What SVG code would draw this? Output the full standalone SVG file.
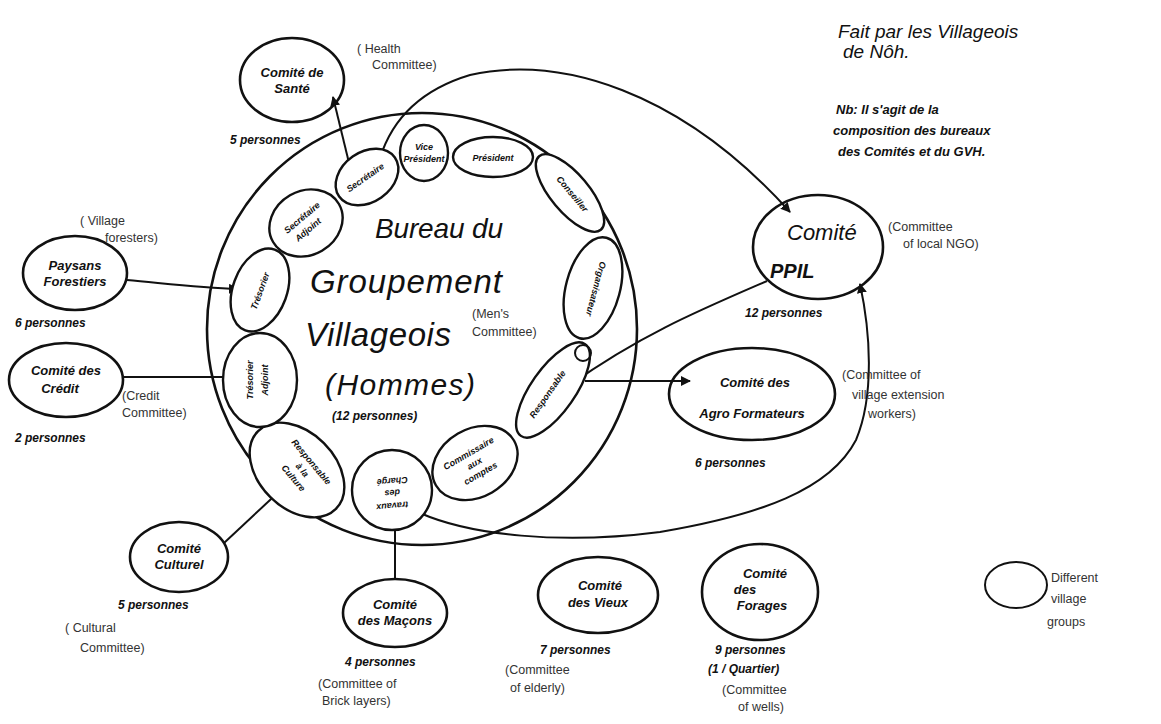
<svg xmlns="http://www.w3.org/2000/svg" width="1161" height="724" viewBox="0 0 1161 724">
<defs>
<style>
.n{fill:none;stroke:#111;stroke-width:2.6}
.r{fill:#fff;stroke:#111;stroke-width:2.4}
.c{fill:none;stroke:#111;stroke-width:2}
.fr{font-family:"Liberation Sans",Arial,sans-serif;font-style:italic;font-weight:bold;fill:#111;font-size:13px}
.sm{font-family:"Liberation Sans",Arial,sans-serif;font-style:italic;font-weight:bold;fill:#111;font-size:9px}
.en{font-family:"Liberation Sans",Arial,sans-serif;fill:#333;font-size:12.5px}
.big{font-family:"Liberation Sans",Arial,sans-serif;font-style:italic;fill:#111}
.p{font-family:"Liberation Sans",Arial,sans-serif;font-style:italic;font-weight:bold;fill:#111;font-size:12px}
</style>
<marker id="a" viewBox="0 0 10 10" refX="9" refY="5" markerWidth="5" markerHeight="5" orient="auto"><path d="M0,0L10,5L0,10z" fill="#111"/></marker>
</defs>
<rect width="1161" height="724" fill="#fff"/>

<g id="connectors">
<path class="c" d="M380,158 C392,120 420,90 470,75 C560,55 680,90 790,212" marker-end="url(#a)"/>
<path class="c" d="M420,513 C470,535 560,545 660,532 C760,515 830,490 856,440 C875,395 870,330 860,284" marker-end="url(#a)"/>
<path class="c" d="M350,167 L333,97" marker-end="url(#a)"/>
<path class="c" d="M127,280 C170,284 200,288 238,289" marker-end="url(#a)"/>
<path class="c" d="M123,377 L240,377" marker-end="url(#a)"/>
<path class="c" d="M224,543 L300,472"/>
<path class="c" d="M395,580 L395,512"/>
<path class="c" d="M767,281 C700,310 640,335 570,385" marker-end="url(#a)"/>
<path class="c" d="M585,381 L690,381" marker-end="url(#a)"/>
</g>

<g id="bureau">
<ellipse class="n" cx="422" cy="329" rx="215" ry="216"/>
<text class="big" x="375" y="238" font-size="28" textLength="128">Bureau du</text>
<text class="big" x="310" y="293" font-size="33" textLength="192">Groupement</text>
<text class="big" x="305" y="346" font-size="33" textLength="146">Villageois</text>
<text class="big" x="325" y="395" font-size="30" textLength="150">(Hommes)</text>
<text class="p" x="332" y="420" font-size="14">(12 personnes)</text>
<text class="en" x="472" y="318">(Men's</text>
<text class="en" x="472" y="336">Committee)</text>
</g>

<g id="ring-secretaire"><ellipse class="r" cx="367" cy="177" rx="34" ry="25" transform="rotate(-35 367 177)"/><text class="sm" text-anchor="middle" transform="translate(367 180) rotate(-35)">Secrétaire</text></g>
<g id="ring-vice"><ellipse class="r" cx="424" cy="153" rx="24" ry="28"/><text class="sm" x="424" y="150" text-anchor="middle">Vice</text><text class="sm" x="424" y="162" text-anchor="middle">Président</text></g>
<g id="ring-president"><ellipse class="r" cx="493" cy="157" rx="40" ry="20"/><text class="sm" x="493" y="161" text-anchor="middle">Président</text></g>
<g id="ring-conseiller"><ellipse class="r" cx="570" cy="193" rx="48" ry="19" transform="rotate(50 570 193)"/><text class="sm" text-anchor="middle" transform="translate(570 196) rotate(50)">Conseiller</text></g>
<g id="ring-organisateur"><ellipse class="r" cx="593" cy="288" rx="27" ry="52" transform="rotate(15 593 288)"/><text class="sm" text-anchor="middle" transform="translate(593 288) rotate(105)">Organisateur</text></g>
<g id="ring-responsable"><ellipse class="r" cx="553" cy="390" rx="56" ry="22" transform="rotate(-55 553 390)"/><circle class="c" cx="583" cy="353" r="8"/><text class="sm" text-anchor="middle" transform="translate(550 396) rotate(-55)">Responsable</text></g>
<g id="ring-commissaire"><ellipse class="r" cx="475" cy="463" rx="45" ry="34" transform="rotate(-30 475 463)"/><text class="sm" text-anchor="middle" transform="translate(470 456) rotate(-30)">Commissaire</text><text class="sm" text-anchor="middle" transform="translate(476 466) rotate(-30)">aux</text><text class="sm" text-anchor="middle" transform="translate(482 476) rotate(-30)">comptes</text></g>
<g id="ring-charge"><ellipse class="r" cx="392" cy="490" rx="40" ry="40"/><text class="sm" text-anchor="middle" transform="translate(392 478) rotate(175)">Chargé</text><text class="sm" text-anchor="middle" transform="translate(392 490) rotate(175)">des</text><text class="sm" text-anchor="middle" transform="translate(392 503) rotate(175)">travaux</text></g>
<g id="ring-culture"><ellipse class="r" cx="297" cy="470" rx="55" ry="38" transform="rotate(45 297 470)"/><text class="sm" text-anchor="middle" transform="translate(309 464) rotate(50)">Responsable</text><text class="sm" text-anchor="middle" transform="translate(300 472) rotate(50)">à la</text><text class="sm" text-anchor="middle" transform="translate(291 480) rotate(50)">Culture</text></g>
<g id="ring-tresorier-adjoint"><ellipse class="r" cx="260" cy="380" rx="37" ry="47"/><text class="sm" text-anchor="middle" transform="translate(253 380) rotate(-90)">Trésorier</text><text class="sm" text-anchor="middle" transform="translate(268 380) rotate(-90)">Adjoint</text></g>
<g id="ring-tresorier"><ellipse class="r" cx="260" cy="290" rx="27" ry="43" transform="rotate(20 260 290)"/><text class="sm" text-anchor="middle" transform="translate(263 292) rotate(-70)">Trésorier</text></g>
<g id="ring-secretaire-adjoint"><ellipse class="r" cx="306" cy="223" rx="38" ry="32" transform="rotate(-30 306 223)"/><text class="sm" text-anchor="middle" transform="translate(304 220) rotate(-40)">Secrétaire</text><text class="sm" text-anchor="middle" transform="translate(310 232) rotate(-40)">Adjoint</text></g>

<g id="sante">
<ellipse class="n" cx="292" cy="80" rx="52" ry="42"/>
<text class="fr" x="292" y="77" text-anchor="middle">Comité de</text>
<text class="fr" x="292" y="93" text-anchor="middle">Santé</text>
<text class="p" x="230" y="144">5 personnes</text>
<text class="en" x="357" y="53">( Health</text>
<text class="en" x="372" y="69">Committee)</text>
</g>

<g id="forestiers">
<ellipse class="n" cx="75" cy="273" rx="52" ry="37"/>
<text class="fr" x="75" y="270" text-anchor="middle">Paysans</text>
<text class="fr" x="75" y="286" text-anchor="middle">Forestiers</text>
<text class="p" x="15" y="327">6 personnes</text>
<text class="en" x="80" y="225">( Village</text>
<text class="en" x="105" y="242">foresters)</text>
</g>

<g id="credit">
<ellipse class="n" cx="66" cy="380" rx="57" ry="37"/>
<text class="fr" x="66" y="375" text-anchor="middle">Comité des</text>
<text class="fr" x="60" y="393" text-anchor="middle">Crédit</text>
<text class="p" x="15" y="442">2 personnes</text>
<text class="en" x="122" y="400">(Credit</text>
<text class="en" x="122" y="417">Committee)</text>
</g>

<g id="culturel">
<ellipse class="n" cx="179" cy="557" rx="49" ry="35"/>
<text class="fr" x="179" y="553" text-anchor="middle">Comité</text>
<text class="fr" x="179" y="569" text-anchor="middle">Culturel</text>
<text class="p" x="118" y="609">5 personnes</text>
<text class="en" x="65" y="632">( Cultural</text>
<text class="en" x="80" y="652">Committee)</text>
</g>

<g id="macons">
<ellipse class="n" cx="395" cy="613" rx="52" ry="34"/>
<text class="fr" x="395" y="609" text-anchor="middle">Comité</text>
<text class="fr" x="395" y="625" text-anchor="middle">des Maçons</text>
<text class="p" x="345" y="666">4 personnes</text>
<text class="en" x="318" y="688">(Committee of</text>
<text class="en" x="322" y="705">Brick layers)</text>
</g>

<g id="vieux">
<ellipse class="n" cx="598" cy="595" rx="60" ry="38"/>
<text class="fr" x="600" y="590" text-anchor="middle">Comité</text>
<text class="fr" x="598" y="607" text-anchor="middle">des Vieux</text>
<text class="p" x="540" y="654">7 personnes</text>
<text class="en" x="505" y="674">(Committee</text>
<text class="en" x="510" y="692">of elderly)</text>
</g>

<g id="forages">
<ellipse class="n" cx="760" cy="592" rx="58" ry="48"/>
<text class="fr" x="765" y="578" text-anchor="middle">Comité</text>
<text class="fr" x="745" y="594" text-anchor="middle">des</text>
<text class="fr" x="762" y="610" text-anchor="middle">Forages</text>
<text class="p" x="715" y="654">9 personnes</text>
<text class="p" x="708" y="673">(1 / Quartier)</text>
<text class="en" x="722" y="694">(Committee</text>
<text class="en" x="738" y="711">of wells)</text>
</g>

<g id="ppil">
<ellipse class="n" cx="818" cy="247" rx="65" ry="52"/>
<text class="big" x="787" y="240" font-size="22">Comité</text>
<text class="big" x="770" y="278" font-size="20" font-weight="bold">PPIL</text>
<text class="p" x="745" y="317">12 personnes</text>
<text class="en" x="888" y="231">(Committee</text>
<text class="en" x="903" y="248">of local NGO)</text>
</g>

<g id="agro">
<ellipse class="n" cx="752" cy="394" rx="83" ry="46"/>
<text class="fr" x="755" y="387" text-anchor="middle">Comité des</text>
<text class="fr" x="752" y="418" text-anchor="middle">Agro Formateurs</text>
<text class="p" x="695" y="467">6 personnes</text>
<text class="en" x="842" y="379" font-size="15">(Committee of</text>
<text class="en" x="852" y="399" font-size="15">village extension</text>
<text class="en" x="868" y="418" font-size="15">workers)</text>
</g>

<g id="notes">
<text class="big" x="838" y="38" font-size="19">Fait par les Villageois</text>
<text class="big" x="843" y="58" font-size="19">de Nôh.</text>
<text class="fr" x="836" y="114">Nb: Il s'agit de la</text>
<text class="fr" x="833" y="135">composition des bureaux</text>
<text class="fr" x="838" y="156">des Comités et du GVH.</text>
</g>

<g id="legend">
<ellipse class="c" cx="1016" cy="585" rx="31" ry="23"/>
<text class="en" x="1051" y="582" font-size="14">Different</text>
<text class="en" x="1051" y="603" font-size="14">village</text>
<text class="en" x="1047" y="626" font-size="14">groups</text>
</g>
</svg>
